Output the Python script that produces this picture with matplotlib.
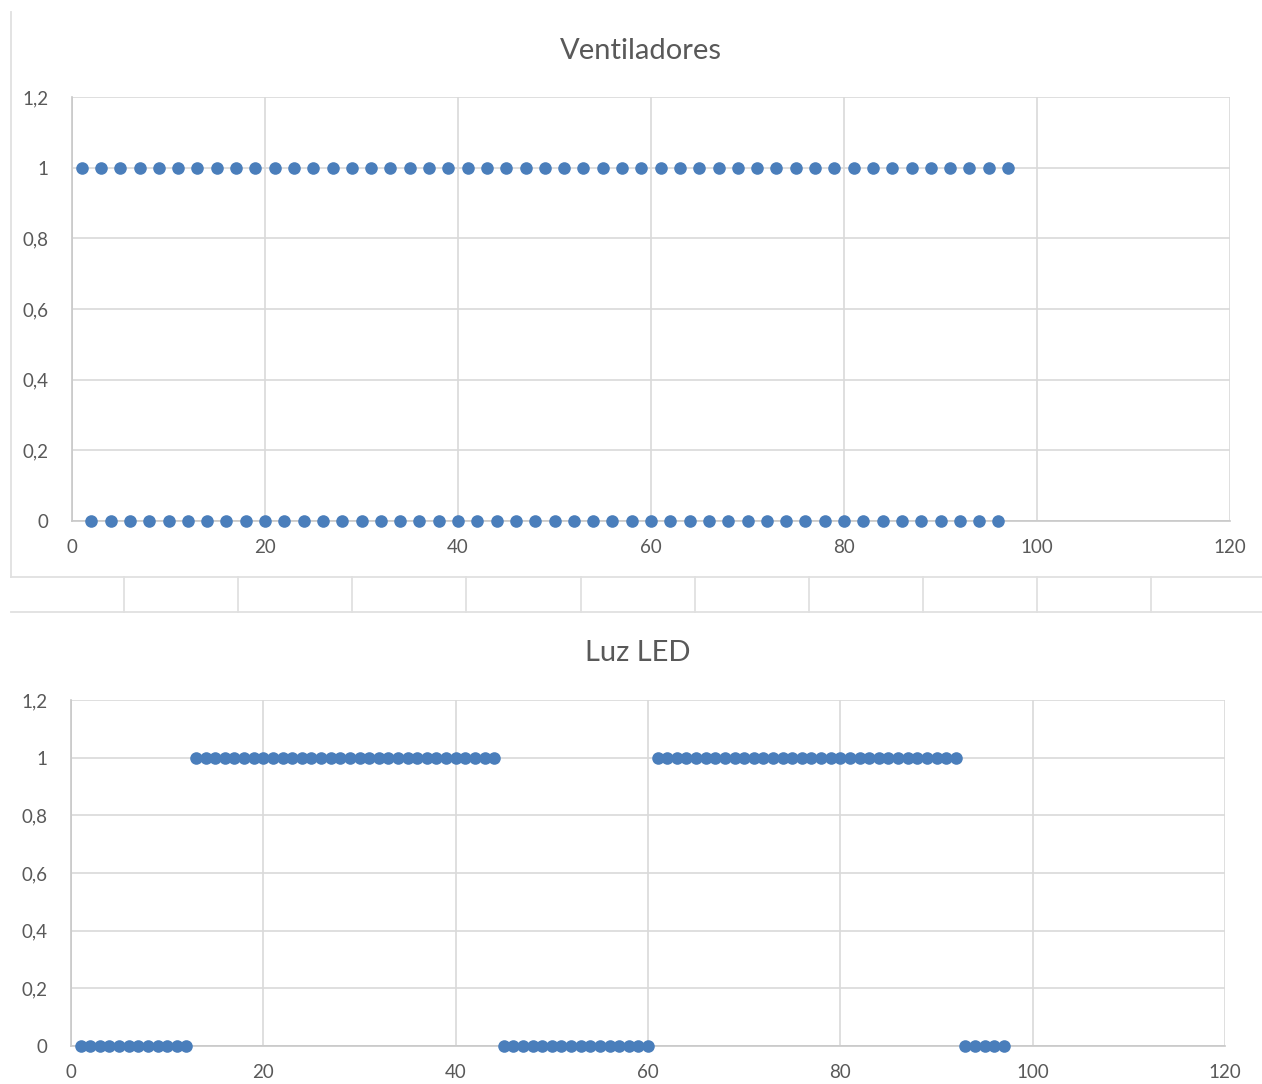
import numpy as np
import matplotlib
matplotlib.use("Agg")
import matplotlib.pyplot as plt
from matplotlib.lines import Line2D

plt.rcParams["font.family"] = ["Lato", "DejaVu Sans"]

W, H = 1262, 1084
BLUE = "#4a7ebb"
GRID = "#d9d9d9"
TEXT = "#595959"

# Ventiladores: readings 1..97, alternating on/off
vent_x = list(range(1, 98))
vent_y = [1 if i % 2 == 1 else 0 for i in vent_x]

# Luz LED: on/off blocks over the same readings
led_x = list(range(1, 98))
led_y = [0] * 12 + [1] * 32 + [0] * 16 + [1] * 32 + [0] * 5

x_ticks = [0, 20, 40, 60, 80, 100, 120]
y_ticks = [0, 0.2, 0.4, 0.6, 0.8, 1.0, 1.2]
y_labels = ["0", "0,2", "0,4", "0,6", "0,8", "1", "1,2"]


def px_axes(fig, x0, y0, x1, y1):
    # axes placed by pixel box (top-left origin)
    return fig.add_axes([x0 / W, (H - y1) / H, (x1 - x0) / W, (y1 - y0) / H])


def style(ax, title, title_x, title_y):
    ax.set_xlim(0, 120)
    ax.set_ylim(0, 1.2)
    ax.set_xticks(x_ticks)
    ax.set_yticks(y_ticks)
    ax.set_yticklabels(y_labels)
    ax.grid(True, color=GRID, linewidth=1.2, zorder=0)
    ax.set_axisbelow(True)
    for s in ["top", "right"]:
        ax.spines[s].set_visible(False)
    for s in ["left", "bottom"]:
        ax.spines[s].set_color("#c8c8c8")
        ax.spines[s].set_linewidth(1.2)
    ax.tick_params(length=0, labelsize=13.5, colors=TEXT, pad=13)
    ax.tick_params(axis="y", pad=17)
    fig.text(title_x / W, 1 - title_y / H, title,
             ha="center", va="center", fontsize=21, color=TEXT)


fig = plt.figure(figsize=(W / 100, H / 100), dpi=100)

# spreadsheet cell lines behind the charts
line_kw = dict(color="#e0e0e0", linewidth=1.3, transform=fig.transFigure)
fig.add_artist(Line2D([11 / W, 11 / W], [1 - 12 / H, 1 - 577 / H], **line_kw))
fig.add_artist(Line2D([11 / W, 1], [1 - 577 / H, 1 - 577 / H], **line_kw))
fig.add_artist(Line2D([11 / W, 1], [1 - 612 / H, 1 - 612 / H], **line_kw))
for cx in [124, 238, 352, 466, 581, 695, 809, 923, 1037, 1151]:
    fig.add_artist(Line2D([cx / W, cx / W], [1 - 577 / H, 1 - 612 / H], **line_kw))

ax1 = px_axes(fig, 72, 97, 1230, 521)
ax1.scatter(vent_x, vent_y, s=82, color=BLUE, zorder=3, linewidths=0, clip_on=False)
style(ax1, "Ventiladores", 641, 51)

ax2 = px_axes(fig, 71, 700, 1225, 1046)
ax2.scatter(led_x, led_y, s=82, color=BLUE, zorder=3, linewidths=0, clip_on=False)
style(ax2, "Luz LED", 638, 653)

fig.savefig("out.png", dpi=100)
